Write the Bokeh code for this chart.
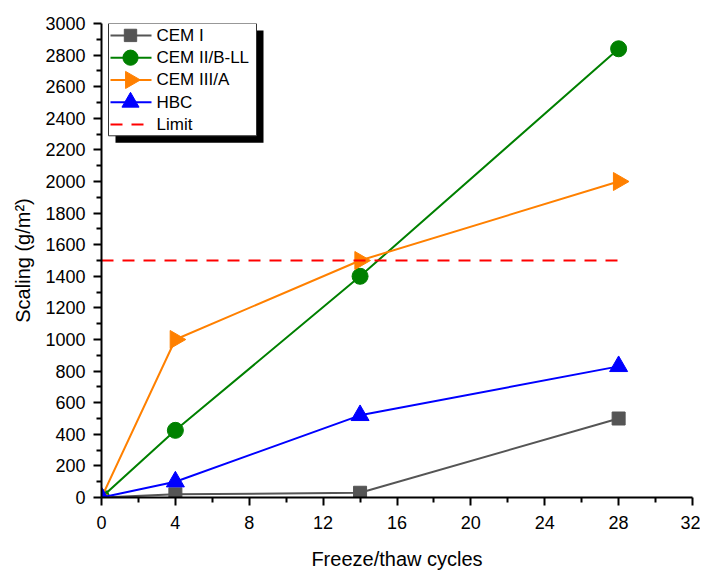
import numpy as np
from bokeh.plotting import figure
from bokeh.models import Range1d, FixedTicker
from bokeh.core.properties import value
from bokeh.embed import file_html
from bokeh.resources import INLINE

cycles = [0, 4, 14, 28]
cem1 = [0, 20, 30, 500]
cem2 = [0, 425, 1400, 2840]
cem3 = [0, 1000, 1500, 2000]
hbc = [0, 100, 520, 830]
limit_x = [0, 28]
limit_y = [1500, 1500]
x_ticks = [0, 4, 8, 12, 16, 20, 24, 28, 32]
y_ticks = [0, 200, 400, 600, 800, 1000, 1200, 1400, 1600, 1800, 2000, 2200, 2400, 2600, 2800, 3000]
series_names = ["CEM I", "CEM II/B-LL", "CEM III/A", "HBC", "Limit"]

W, H = 700, 572
L, R, T, B = 101, 8, 23, 72
XMAX, YMAX = 32, 3000
p = figure(width=W, height=H, output_backend="svg", toolbar_location=None,
           x_range=Range1d(0, XMAX), y_range=Range1d(0, YMAX),
           min_border_left=L, min_border_right=R, min_border_top=T, min_border_bottom=B)
p.outline_line_color = None
p.grid.visible = False
p.background_fill_color = "white"

FONT = "Liberation Sans"
for ax in (p.xaxis[0], p.yaxis[0]):
    ax.axis_line_color = "black"
    ax.axis_line_width = 2
    ax.major_tick_line_color = "black"
    ax.major_tick_line_width = 2
    ax.minor_tick_line_color = "black"
    ax.minor_tick_line_width = 2
    ax.major_tick_out = 8
    ax.major_tick_in = 0
    ax.minor_tick_out = 5
    ax.minor_tick_in = 0
    ax.major_label_text_font = FONT
    ax.major_label_text_font_size = "18px"
    ax.major_label_text_color = "black"
    ax.axis_label_text_font = FONT
    ax.axis_label_text_font_size = "20px"
    ax.axis_label_text_font_style = "normal"
    ax.axis_label_text_color = "black"

x_minor = [t + 2 for t in x_ticks[:-1]]
y_minor = [t + 100 for t in y_ticks[:-1]]
p.xaxis[0].ticker = FixedTicker(ticks=x_ticks, minor_ticks=x_minor)
p.yaxis[0].ticker = FixedTicker(ticks=y_ticks, minor_ticks=y_minor)
p.xaxis.axis_label = "Freeze/thaw cycles"
p.yaxis.axis_label = "Scaling (g/m²)"
p.xaxis.major_label_standoff = 10
p.yaxis.major_label_standoff = 8
p.xaxis.axis_label_standoff = 16
p.yaxis.axis_label_standoff = 8

colors = ["#555555", "#008000", "#ff8000", "#0000ff", "#ff0000"]
markers = ["square", "circle", "triangle", "triangle", None]
angles = [0, 0, -np.pi / 2, 0, 0]
sizes = [13, 16, 18, 18, 0]
series = [cem1, cem2, cem3, hbc]

for ys, c, m, a, s in zip(series, colors, markers, angles, sizes):
    p.line(cycles, ys, line_color=c, line_width=2)
    p.scatter(cycles, ys, marker=m, size=s, angle=a, fill_color=c, line_color=c)
p.line(limit_x, limit_y, line_color=colors[4], line_width=2, line_dash="12 9")

# ---- legend box drawn from pixel offsets inside the frame ----
fw, fh = W - L - R, H - T - B
def dx(px):
    return px * XMAX / fw
def dy(py):
    return YMAX - py * YMAX / fh

BOX_L, BOX_R, BOX_T, BOX_B = 7, 155, 0, 113
SH = 7
p.quad(left=[dx(BOX_L + SH)], right=[dx(BOX_R + SH)], top=[dy(BOX_T + SH)], bottom=[dy(BOX_B + SH)],
       fill_color="black", line_color=None)
p.quad(left=[dx(BOX_L)], right=[dx(BOX_R)], top=[dy(BOX_T)], bottom=[dy(BOX_B)],
       fill_color="white", line_color="#333333", line_width=1)

ROW0, ROWSTEP = 12, 22.4
G0, G1, GM, TX = 9, 50, 29, 55
for i, name in enumerate(series_names):
    yy = dy(ROW0 + i * ROWSTEP)
    if markers[i] is None:
        p.line([dx(G0), dx(G1)], [yy, yy], line_color=colors[i], line_width=2, line_dash="12 9")
    else:
        p.line([dx(G0), dx(G1)], [yy, yy], line_color=colors[i], line_width=2)
        p.scatter([dx(GM)], [yy], marker=markers[i], size=sizes[i] * 0.95, angle=angles[i],
                  fill_color=colors[i], line_color=colors[i])
    p.text([dx(TX)], [yy], text=[name], text_font=value(FONT), text_font_size="17px",
           text_baseline="middle", text_align="left", text_color="black")

open("out.html", "w").write(file_html(p, INLINE))
